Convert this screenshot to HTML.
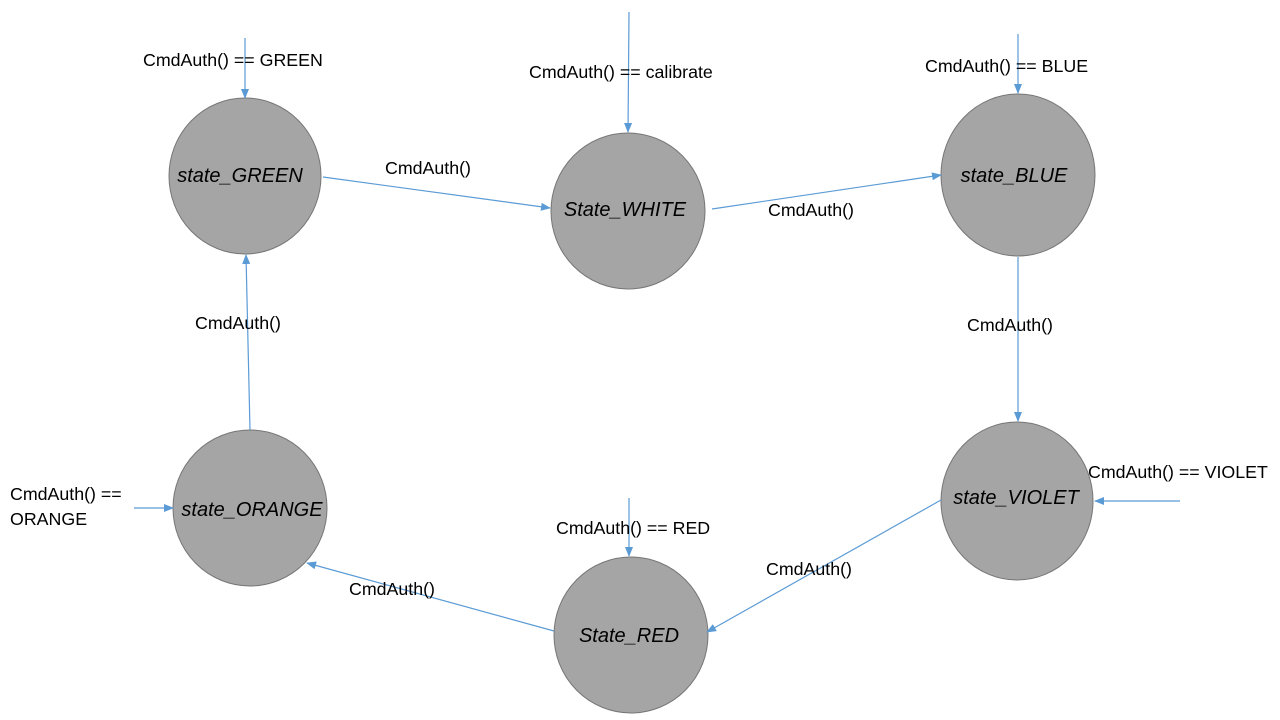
<!DOCTYPE html>
<html><head><meta charset="utf-8"><style>
html,body{margin:0;padding:0;background:#fff;}
svg{display:block;}
text{font-family:"Liberation Sans",sans-serif;fill:#000;}
.s{font-size:20px;font-style:italic;text-anchor:middle;}
.l{font-size:17.8px;}
</style></head><body>
<svg width="1280" height="720" xmlns="http://www.w3.org/2000/svg">
<defs><marker id="a" markerWidth="10" markerHeight="8" refX="9" refY="4" orient="auto" markerUnits="userSpaceOnUse"><path d="M0,0 L10,4 L0,8 z" fill="#5b9bd5"/></marker></defs>
<g fill="#a5a5a5" stroke="#767676" stroke-width="1">
<ellipse cx="245" cy="176" rx="76" ry="78"/>
<ellipse cx="628" cy="211" rx="77" ry="78"/>
<ellipse cx="1018" cy="175" rx="77" ry="81"/>
<ellipse cx="1017" cy="501" rx="76" ry="79"/>
<ellipse cx="631" cy="635" rx="77" ry="78"/>
<ellipse cx="250" cy="508" rx="77" ry="78"/>
</g>
<g stroke="#5b9bd5" stroke-width="1.2" fill="none" marker-end="url(#a)">
<line x1="245" y1="38" x2="245" y2="98"/>
<line x1="629" y1="12" x2="628" y2="132"/>
<line x1="1018" y1="34" x2="1018" y2="93"/>
<line x1="323" y1="177" x2="550" y2="208"/>
<line x1="712" y1="209" x2="941" y2="175"/>
<line x1="1018" y1="257" x2="1018" y2="421"/>
<line x1="1180" y1="501" x2="1095" y2="501"/>
<line x1="941" y1="500" x2="707" y2="632"/>
<line x1="629" y1="498" x2="629" y2="556"/>
<line x1="554" y1="631" x2="307" y2="563"/>
<line x1="134" y1="508" x2="173" y2="508"/>
<line x1="250" y1="430" x2="246" y2="255"/>
</g>
<text class="s" x="240" y="182">state_GREEN</text>
<text class="s" x="625" y="216">State_WHITE</text>
<text class="s" x="1014" y="182">state_BLUE</text>
<text class="s" x="1016" y="504">state_VIOLET</text>
<text class="s" x="629" y="642">State_RED</text>
<text class="s" x="252" y="516">state_ORANGE</text>
<text class="l" x="143" y="66">CmdAuth() == GREEN</text>
<text class="l" x="529" y="78">CmdAuth() == calibrate</text>
<text class="l" x="925" y="72">CmdAuth() == BLUE</text>
<text class="l" x="385" y="174">CmdAuth()</text>
<text class="l" x="768" y="216">CmdAuth()</text>
<text class="l" x="967" y="331">CmdAuth()</text>
<text class="l" x="1088" y="478">CmdAuth() == VIOLET</text>
<text class="l" x="766" y="575">CmdAuth()</text>
<text class="l" x="556" y="534">CmdAuth() == RED</text>
<text class="l" x="349" y="595">CmdAuth()</text>
<text class="l" x="10" y="500">CmdAuth() ==</text>
<text class="l" x="10" y="525">ORANGE</text>
<text class="l" x="195" y="329">CmdAuth()</text>
</svg>
</body></html>
